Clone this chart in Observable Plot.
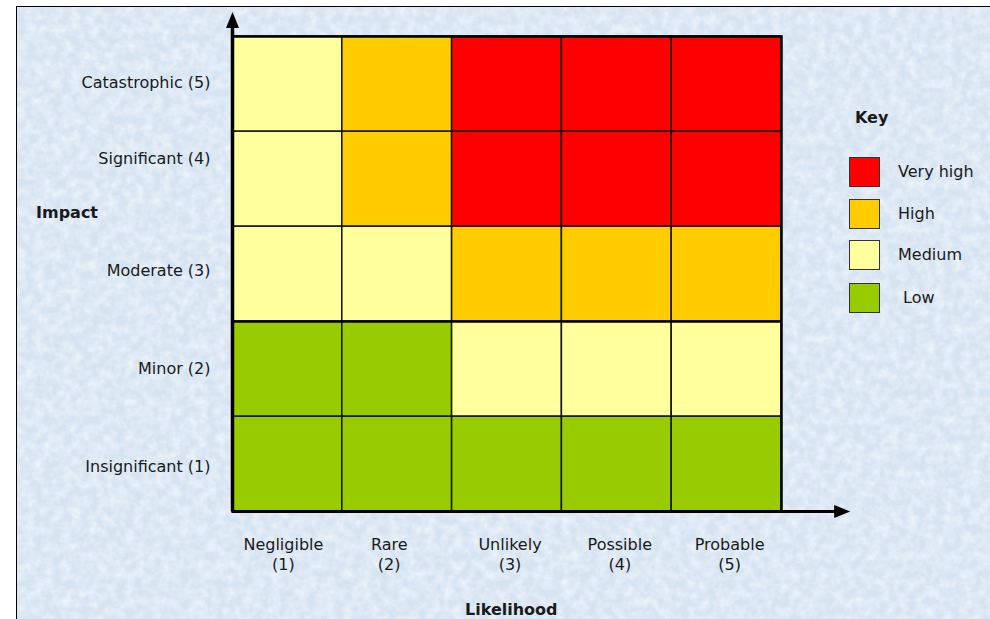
<!DOCTYPE html>
<html>
<head>
<meta charset="utf-8">
<script src="https://cdn.jsdelivr.net/npm/d3@7"></script>
<script src="https://cdn.jsdelivr.net/npm/@observablehq/plot@0.6"></script>
<style>
  html, body { margin: 0; padding: 0; background: #fff; }
  #wrap { position: relative; width: 990px; height: 619px; overflow: hidden; background: #fff;
          font-family: "DejaVu Sans", sans-serif; color: #1a1a1a; }
  #bg { position: absolute; left: 16px; top: 6px; width: 973px; height: 612px;
        border-left: 1px solid #000; border-top: 1px solid #000; }
  #bg svg { display: block; }
  #chart { position: absolute; left: 0; top: 0; }
  .title { position: absolute; font-weight: bold; font-size: 16px; line-height: 16px; white-space: nowrap; }
  #legend { position: absolute; left: 849px; top: 110px; }
  #legend .key { position: absolute; left: 6px; top: 0; font-weight: bold; font-size: 16px; line-height: 16px; }
  #legend .item { position: absolute; left: 0; height: 31px; width: 140px; }
  #legend .sw { position: absolute; left: 0; top: 0; width: 29px; height: 28px; border: 1px solid #333; }
  #legend .lab { position: absolute; left: 49px; top: 6px; font-size: 16px; line-height: 18px; white-space: nowrap; }
</style>
</head>
<body>
<div id="wrap">
  <div id="bg">
    <svg width="973" height="612">
      <filter id="tex" x="0" y="0" width="100%" height="100%">
        <feTurbulence type="fractalNoise" baseFrequency="0.11" numOctaves="4" seed="11"/>
        <feColorMatrix type="matrix" values="0 0 0 0 1  0 0 0 0 1  0 0 0 0 1  0 0 0 1.0 -0.33"/>
      </filter>
      <rect width="973" height="612" fill="#d6e4f2"/>
      <rect width="973" height="612" filter="url(#tex)"/>
    </svg>
  </div>
  <div id="chart"></div>
  <div class="title" style="left:36px; top:205px;">Impact</div>
  <div class="title" style="left:465px; top:604px; line-height:12px;">Likelihood</div>
  <div id="legend"></div>
</div>
<script>
// Likelihood categories (x axis, left to right)
const likelihood = ["Negligible\n(1)", "Rare\n(2)", "Unlikely\n(3)", "Possible\n(4)", "Probable\n(5)"];
// Impact categories (y axis, bottom to top)
const impact = ["Insignificant (1)", "Minor (2)", "Moderate (3)", "Significant (4)", "Catastrophic (5)"];
// Risk levels and colours
const levels = ["Very high", "High", "Medium", "Low"];
const levelColors = ["#ff0000", "#ffcc00", "#ffff9e", "#99cc00"];
// Ratings: one row per impact (bottom to top), one entry per likelihood
const ratings = [
  ["Low", "Low", "Low", "Low", "Low"],
  ["Low", "Low", "Medium", "Medium", "Medium"],
  ["Medium", "Medium", "High", "High", "High"],
  ["Medium", "High", "Very high", "Very high", "Very high"],
  ["Medium", "High", "Very high", "Very high", "Very high"]
];

// small label placement nudges (pixels) to follow the original's hand placement
const yLabelNudge = [3, 0, -3, -20, -1];
const xLabelNudge = [-4, -8, 3, 3, 3];

const cells = [];
ratings.forEach((row, j) => row.forEach((level, i) => cells.push({i, j, level})));

const txt = {fill: "#1a1a1a", fontSize: 16};

const chart = Plot.plot({
  width: 990,
  height: 619,
  marginLeft: 232,
  marginRight: 209,
  marginTop: 36,
  marginBottom: 108,
  x: {domain: [0, 5], axis: null},
  y: {domain: [0, 5], axis: null},
  color: {domain: levels, range: levelColors},
  style: {background: "transparent", fontFamily: "'DejaVu Sans', sans-serif", fontSize: "16px", color: "#1a1a1a", overflow: "visible"},
  marks: [
    Plot.rect(cells, {x1: "i", x2: d => d.i + 1, y1: "j", y2: d => d.j + 1, fill: "level", stroke: "#111", strokeWidth: 1.5}),
    Plot.ruleY([2], {x1: 0, x2: 5, stroke: "#000", strokeWidth: 2.5}),
    Plot.frame({stroke: "#000", strokeWidth: 2.5}),
    Plot.ruleX([0], {y1: 0, y2: 5.1, stroke: "#000", strokeWidth: 3.5}),
    Plot.ruleY([0], {x1: 0, x2: 5.5, stroke: "#000", strokeWidth: 3}),
    Plot.vector([0], {x: 0, y: 5.09, length: 16, r: 6.5, shape: "spike", anchor: "start", rotate: 0, fill: "#000", stroke: "none"}),
    Plot.vector([0], {x: 5.48, y: 0, length: 16, r: 6.5, shape: "spike", anchor: "start", rotate: 90, fill: "#000", stroke: "none"}),
    ...impact.map((d, i) => Plot.text([d], {x: 0, y: i + 0.5, text: v => v, textAnchor: "end", dx: -22, dy: yLabelNudge[i], ...txt})),
    ...likelihood.map((d, i) => Plot.text([d], {x: i + 0.5, y: 0, text: v => v, lineAnchor: "top", dy: 24, dx: xLabelNudge[i], lineHeight: 1.25, ...txt}))
  ]
});
document.getElementById("chart").appendChild(chart);

// Key
const legend = document.getElementById("legend");
const key = document.createElement("div");
key.className = "key";
key.textContent = "Key";
legend.appendChild(key);
const tops = [47, 89, 130, 173];
levels.forEach((lv, k) => {
  const item = document.createElement("div");
  item.className = "item";
  item.style.top = tops[k] + "px";
  const sw = document.createElement("div");
  sw.className = "sw";
  sw.style.background = levelColors[k];
  const lab = document.createElement("div");
  lab.className = "lab";
  lab.textContent = lv;
  if (lv === "Low") lab.style.left = "54px";
  item.appendChild(sw);
  item.appendChild(lab);
  legend.appendChild(item);
});
</script>
</body>
</html>
